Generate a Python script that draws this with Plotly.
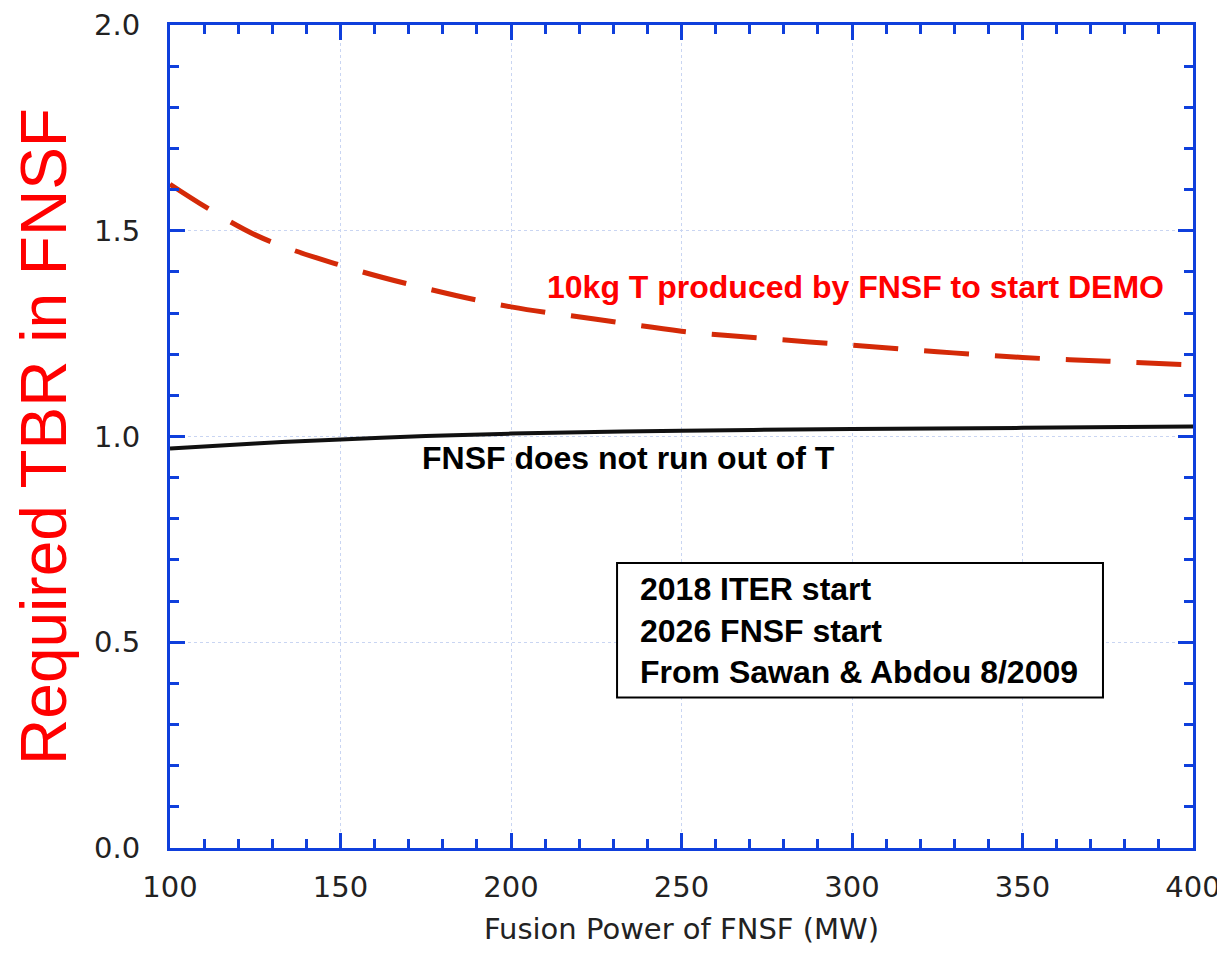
import plotly.graph_objects as go

# Data
power_mw = [100, 125, 150, 175, 200, 225, 250, 275, 300, 325, 350, 375, 400]
tbr_demo = [1.613, 1.49, 1.416, 1.36, 1.315, 1.285, 1.256, 1.238, 1.222, 1.206, 1.192, 1.183, 1.174]
power_mw_run = [100, 125, 150, 175, 200, 250, 300, 350, 400]
tbr_no_runout = [0.971, 0.983, 0.993, 1.001, 1.007, 1.014, 1.018, 1.021, 1.024]

x_ticks = [100, 150, 200, 250, 300, 350, 400]
y_ticks = [0.0, 0.5, 1.0, 1.5, 2.0]
y_tick_labels = ["0.0", "0.5", "1.0", "1.5", "2.0"]

box_lines = ["2018 ITER start", "2026 FNSF start", "From Sawan & Abdou 8/2009"]

AXIS_BLUE = "#0f3fdc"
GRID = "#c9d5f2"

fig = go.Figure()
fig.add_trace(go.Scatter(
    x=power_mw, y=tbr_demo, mode="lines", line_shape="spline",
    line=dict(color="#d42a08", width=5, dash="45px,26px"), showlegend=False,
))
fig.add_trace(go.Scatter(
    x=power_mw_run, y=tbr_no_runout, mode="lines", line_shape="spline",
    line=dict(color="#111111", width=4), showlegend=False,
))

# page body adds an 8px margin, so the figure is 8px smaller and shifted margins
fig.update_layout(
    width=1217, height=947,
    margin=dict(l=162, r=32, t=17, b=107),
    paper_bgcolor="white", plot_bgcolor="white",
    font=dict(family="DejaVu Sans", color="#222222"),
)

fig.update_xaxes(
    range=[100, 400], tickvals=x_ticks, automargin=False, ticklabeloverflow="allow",
    showline=True, linecolor=AXIS_BLUE, linewidth=3, mirror="ticks",
    ticks="inside", ticklen=15, tickwidth=3, tickcolor=AXIS_BLUE,
    minor=dict(ticks="inside", ticklen=9, tickwidth=3, tickcolor=AXIS_BLUE, dtick=10, showgrid=False),
    showgrid=True, gridcolor=GRID, gridwidth=1, griddash="dot",
    zeroline=False,
    tickfont=dict(family="DejaVu Sans", size=29, color="#222222"),
    ticklabelstandoff=11,
    title=dict(text="Fusion Power of FNSF (MW)", font=dict(family="DejaVu Sans", size=29, color="#222222"), standoff=16),
)
fig.update_yaxes(
    range=[0, 2], tickvals=y_ticks, ticktext=y_tick_labels, automargin=False, ticklabeloverflow="allow",
    showline=True, linecolor=AXIS_BLUE, linewidth=3, mirror="ticks",
    ticks="inside", ticklen=15, tickwidth=3, tickcolor=AXIS_BLUE,
    minor=dict(ticks="inside", ticklen=9, tickwidth=3, tickcolor=AXIS_BLUE, dtick=0.1, showgrid=False),
    showgrid=True, gridcolor=GRID, gridwidth=1, griddash="dot",
    zeroline=False,
    tickfont=dict(family="DejaVu Sans", size=29, color="#222222"),
    ticklabelstandoff=21,
    title=dict(text="Required TBR in FNSF", font=dict(family="Liberation Sans", size=64, color="#ff0000"), standoff=18),
)

fig.add_annotation(
    x=210, y=1.363, xref="x", yref="y", xanchor="left", yanchor="middle",
    text="<b>10kg T produced by FNSF to start DEMO</b>", showarrow=False,
    font=dict(family="Liberation Sans", size=32, color="#ff0000"),
)
fig.add_annotation(
    x=173.3, y=0.947, xref="x", yref="y", xanchor="left", yanchor="middle",
    text="<b>FNSF does not run out of T</b>", showarrow=False,
    font=dict(family="Liberation Sans", size=32, color="#000000"),
)

fig.add_shape(type="rect", xref="x", yref="y", x0=231.1, x1=373.6, y0=0.3656, y1=0.6925,
              line=dict(color="#000000", width=2), fillcolor="white", layer="above")
fig.add_annotation(
    x=237.2, y=0.5295, xref="x", yref="y", xanchor="left", yanchor="middle", align="left",
    text="<br>".join("<b>" + s + "</b>" for s in box_lines), showarrow=False,
    font=dict(family="Liberation Sans", size=32, color="#000000"),
)

fig.write_html("out.html")
